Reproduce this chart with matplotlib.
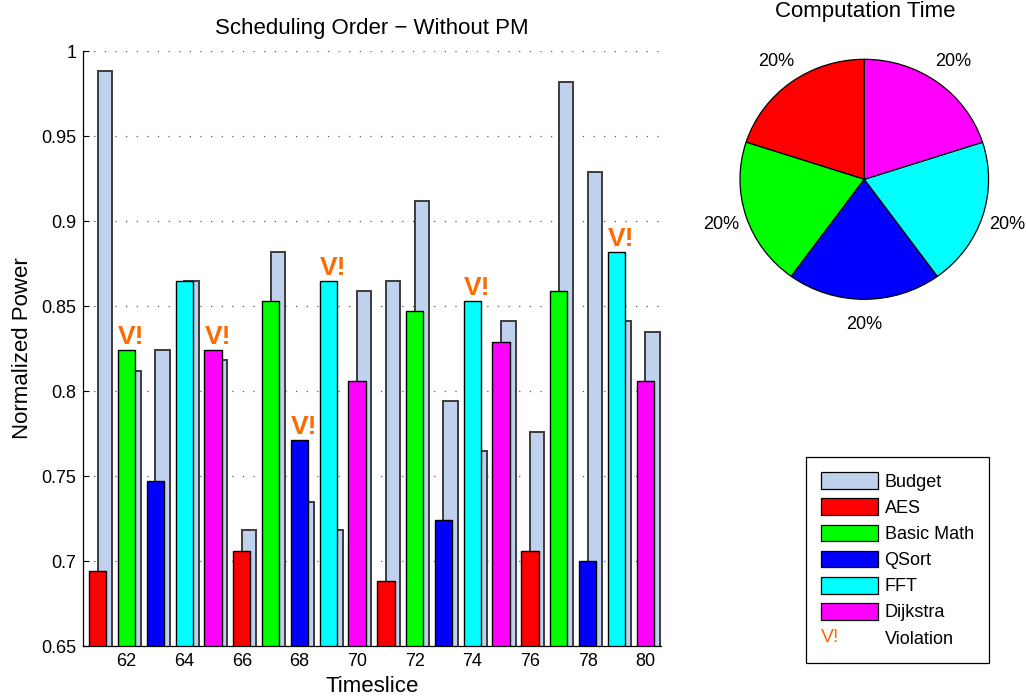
import matplotlib
matplotlib.use("Agg")
import matplotlib.pyplot as plt
from matplotlib.patches import Patch
from matplotlib.legend_handler import HandlerBase
from matplotlib.text import Text

plt.rcParams['font.family'] = ['Liberation Sans', 'DejaVu Sans']

# --- data -------------------------------------------------------------
timeslices = [61, 62, 63, 64, 65, 66, 67, 68, 69, 70,
              71, 72, 73, 74, 75, 76, 77, 78, 79, 80]
scheduled = ['AES', 'Basic Math', 'QSort', 'FFT', 'Dijkstra',
             'AES', 'Basic Math', 'QSort', 'FFT', 'Dijkstra',
             'AES', 'Basic Math', 'QSort', 'FFT', 'Dijkstra',
             'AES', 'Basic Math', 'QSort', 'FFT', 'Dijkstra']
budget = [0.988, 0.812, 0.824, 0.865, 0.818, 0.718, 0.882, 0.735, 0.718, 0.859,
          0.865, 0.912, 0.794, 0.765, 0.841, 0.776, 0.982, 0.929, 0.841, 0.835]
power = [0.694, 0.824, 0.747, 0.865, 0.824, 0.706, 0.853, 0.771, 0.865, 0.806,
         0.688, 0.847, 0.724, 0.853, 0.829, 0.706, 0.859, 0.700, 0.882, 0.806]

benchmarks = ['AES', 'Basic Math', 'QSort', 'FFT', 'Dijkstra']
comp_time = [20, 20, 20, 20, 20]

y_ticks = [0.65, 0.7, 0.75, 0.8, 0.85, 0.9, 0.95, 1.0]
y_ticklabels = ['0.65', '0.7', '0.75', '0.8', '0.85', '0.9', '0.95', '1']
x_ticks = [62, 64, 66, 68, 70, 72, 74, 76, 78, 80]

# --- style ------------------------------------------------------------
task_colors = {'AES': '#FF0000', 'Basic Math': '#00FF00', 'QSort': '#0000FF',
               'FFT': '#00FFFF', 'Dijkstra': '#FF00FF'}
budget_color = '#BFD1ED'
budget_edge = '#3c3c3c'
violation_color = '#FF6A00'

fig = plt.figure(figsize=(10.26, 7.0), dpi=100)

# --- scheduling bars --------------------------------------------------
ax = fig.add_axes([0.0812, 0.0771, 0.5631, 0.85])
ax.bar(timeslices, budget, width=0.5, align='edge', bottom=0,
       color=budget_color, edgecolor=budget_edge, linewidth=1.4, zorder=2)
ax.bar(timeslices, power, width=0.6,
       color=[task_colors[t] for t in scheduled],
       edgecolor='black', linewidth=1.0, zorder=3)

for t, p, b in zip(timeslices, power, budget):
    if p > b:
        ax.text(t - 0.3, p + 0.0035, 'V!', color=violation_color,
                fontsize=19, fontweight='bold', ha='left', va='baseline',
                zorder=4)

ax.set_xlim(60.5, 80.55)
ax.set_ylim(0.65, 1.0)
ax.set_yticks(y_ticks)
ax.set_yticklabels(y_ticklabels)
ax.set_xticks(x_ticks)
ax.tick_params(axis='both', direction='in', labelsize=13, length=4,
               width=0.8, pad=5)
ax.tick_params(axis='y', pad=5)
for side in ('top', 'right'):
    ax.spines[side].set_visible(False)
for side in ('left', 'bottom'):
    ax.spines[side].set_linewidth(0.9)
    ax.spines[side].set_zorder(5)
ax.set_axisbelow(True)
ax.yaxis.grid(True, linestyle=(0, (1, 7.5)), color='0.35', linewidth=0.9)
ax.set_title('Scheduling Order \u2212 Without PM', fontsize=16, pad=12)
ax.set_xlabel('Timeslice', fontsize=16, labelpad=4)
ax.set_ylabel('Normalized Power', fontsize=16, labelpad=6)

# --- computation time pie ---------------------------------------------
pax = fig.add_axes([740 / 1026, (700 - 299.3) / 700, 248.6 / 1026, 240 / 700])
pax.pie(comp_time, colors=[task_colors[b] for b in benchmarks],
        startangle=90, counterclock=True, autopct='%d%%', pctdistance=1.21,
        wedgeprops=dict(edgecolor='black', linewidth=0.9),
        textprops=dict(fontsize=13))
pax.set_aspect('auto')
pax.set_xlim(-1, 1)
pax.set_ylim(-1, 1)
fig.text(865 / 1026, 1 - 12 / 700, 'Computation Time', fontsize=16,
         ha='center', va='center')


# --- legend -----------------------------------------------------------
class ViolationHandler(HandlerBase):
    def create_artists(self, legend, orig_handle, xdescent, ydescent,
                       width, height, fontsize, trans):
        txt = Text(x=-xdescent, y=-ydescent + height / 2, text='V!',
                   color=violation_color, fontsize=fontsize + 1,
                   ha='left', va='center', transform=trans)
        return [txt]


class ViolationKey:
    pass


handles = [Patch(facecolor=budget_color, edgecolor='black', linewidth=0.9)]
handles += [Patch(facecolor=task_colors[b], edgecolor='black', linewidth=0.9)
            for b in benchmarks]
handles.append(ViolationKey())
labels = ['Budget'] + benchmarks + ['Violation']

leg = fig.legend(handles, labels, loc='upper left',
                 bbox_to_anchor=(806 / 1026, 1 - 457 / 700),
                 fontsize=13, handlelength=3.15, handleheight=1.05,
                 handletextpad=0.35, labelspacing=0.42, borderpad=0.85,
                 borderaxespad=0, fancybox=False, framealpha=1,
                 edgecolor='black', handler_map={ViolationKey: ViolationHandler()})
leg.get_frame().set_linewidth(0.9)

fig.savefig('out.png', dpi=100)
